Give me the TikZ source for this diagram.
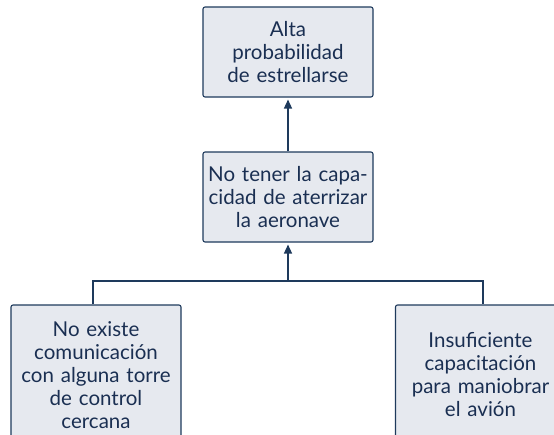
\documentclass[tikz,border=0pt]{standalone}
\usepackage{fontspec}
\setmainfont{Lato}
\usetikzlibrary{arrows.meta,calc}
\definecolor{boxfill}{HTML}{E6E9EF}
\definecolor{navy}{HTML}{1E3A5C}
\definecolor{txt}{HTML}{1A2F52}
\begin{document}
\begin{tikzpicture}[x=1pt,y=-1pt,
  cbox/.style={draw=navy, line width=1.1pt, fill=boxfill, rounded corners=2pt,
    minimum width=170pt, text width=166pt, align=center, inner sep=0pt,
    font=\fontsize{20.5}{23}\selectfont, text=txt},
  conn/.style={draw=navy, line width=1.4pt},
  arr/.style={conn, -{Triangle[length=9pt,width=8pt]}, shorten >=2pt}]
\useasboundingbox (0,0) rectangle (554,434);
\clip (0,0) rectangle (554,434);
\node[cbox, minimum height=90pt] (top) at (288,52) {Alta\\probabilidad\\de estrellarse};
\node[cbox, minimum height=90pt] (mid) at (288,197) {No tener la capa-\\cidad de aterrizar\\la aeronave};
\node[cbox, minimum height=140pt] (left) at (96,375) {No existe\\comunicación\\con alguna torre\\de control\\cercana};
\node[cbox, minimum height=140pt] (right) at (480.5,375) {Insuficiente\\capacitación\\para maniobrar\\el avión};
\coordinate (j) at (288,281);
\coordinate (lj) at (93,281);
\coordinate (rj) at (483,281);
\draw[arr] (mid.north) -- (top.south);
\draw[conn] (lj |- left.north) -- (lj) -- (rj) -- (rj |- right.north);
\draw[arr] (j) -- (mid.south);
\end{tikzpicture}
\end{document}
